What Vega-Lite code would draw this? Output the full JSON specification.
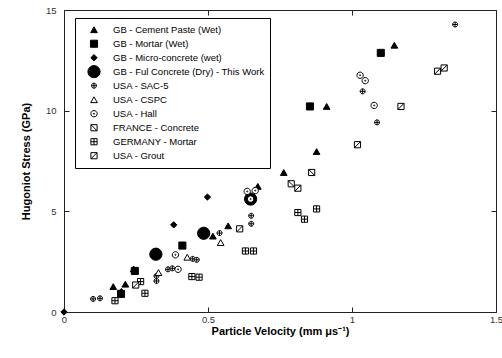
{
  "$schema": "https://vega.github.io/schema/vega-lite/v6.json",
  "autosize": "none",
  "width": 432,
  "height": 302,
  "padding": {"left": 64, "top": 10, "right": 6, "bottom": 46},
  "background": "white",
  "config": {
    "font": "Liberation Sans",
    "view": {"stroke": null},
    "axis": {
      "grid": false,
      "domainColor": "#222222",
      "domainWidth": 1,
      "tickColor": "#222222",
      "tickSize": -5,
      "labelFont": "Liberation Sans",
      "labelFontSize": 9.5,
      "labelColor": "#333333",
      "titleFont": "Liberation Sans",
      "titleFontSize": 11,
      "titleFontWeight": "bold",
      "titleColor": "black"
    }
  },
  "datasets": {
    "hugoniot": [
      {"s": "GB - Cement Paste (Wet)", "u": 0.171, "p": 1.26},
      {"s": "GB - Cement Paste (Wet)", "u": 0.213, "p": 1.38},
      {"s": "GB - Cement Paste (Wet)", "u": 0.242, "p": 2.14},
      {"s": "GB - Cement Paste (Wet)", "u": 0.517, "p": 3.77},
      {"s": "GB - Cement Paste (Wet)", "u": 0.570, "p": 4.28},
      {"s": "GB - Cement Paste (Wet)", "u": 0.673, "p": 6.24},
      {"s": "GB - Cement Paste (Wet)", "u": 0.763, "p": 6.93},
      {"s": "GB - Cement Paste (Wet)", "u": 0.877, "p": 7.97},
      {"s": "GB - Cement Paste (Wet)", "u": 0.912, "p": 10.21},
      {"s": "GB - Cement Paste (Wet)", "u": 1.147, "p": 13.25},
      {"s": "GB - Mortar (Wet)", "u": 0.198, "p": 0.9},
      {"s": "GB - Mortar (Wet)", "u": 0.246, "p": 2.04},
      {"s": "GB - Mortar (Wet)", "u": 0.411, "p": 3.30},
      {"s": "GB - Mortar (Wet)", "u": 0.854, "p": 10.21},
      {"s": "GB - Mortar (Wet)", "u": 1.100, "p": 12.87},
      {"s": "GB - Micro-concrete (wet)", "u": 0.0, "p": 0.0},
      {"s": "GB - Micro-concrete (wet)", "u": 0.199, "p": 1.01},
      {"s": "GB - Micro-concrete (wet)", "u": 0.381, "p": 4.33},
      {"s": "GB - Micro-concrete (wet)", "u": 0.498, "p": 5.71},
      {"s": "GB - Ful Concrete (Dry) - This Work", "u": 0.319, "p": 2.87},
      {"s": "GB - Ful Concrete (Dry) - This Work", "u": 0.485, "p": 3.91},
      {"s": "GB - Ful Concrete (Dry) - This Work", "u": 0.648, "p": 5.61},
      {"s": "USA - SAC-5", "u": 0.101, "p": 0.65},
      {"s": "USA - SAC-5", "u": 0.125, "p": 0.68},
      {"s": "USA - SAC-5", "u": 0.321, "p": 1.79},
      {"s": "USA - SAC-5", "u": 0.321, "p": 1.54},
      {"s": "USA - SAC-5", "u": 0.361, "p": 2.12},
      {"s": "USA - SAC-5", "u": 0.376, "p": 2.17},
      {"s": "USA - SAC-5", "u": 0.447, "p": 2.64},
      {"s": "USA - SAC-5", "u": 0.461, "p": 2.59},
      {"s": "USA - SAC-5", "u": 0.540, "p": 3.92},
      {"s": "USA - SAC-5", "u": 0.650, "p": 4.78},
      {"s": "USA - SAC-5", "u": 0.650, "p": 4.38},
      {"s": "USA - SAC-5", "u": 1.037, "p": 10.96},
      {"s": "USA - SAC-5", "u": 1.087, "p": 9.42},
      {"s": "USA - SAC-5", "u": 1.358, "p": 14.28},
      {"s": "USA - CSPC", "u": 0.328, "p": 1.96},
      {"s": "USA - CSPC", "u": 0.428, "p": 2.72},
      {"s": "USA - CSPC", "u": 0.544, "p": 3.45},
      {"s": "USA - Hall", "u": 0.387, "p": 2.84},
      {"s": "USA - Hall", "u": 0.396, "p": 2.12},
      {"s": "USA - Hall", "u": 0.636, "p": 5.99},
      {"s": "USA - Hall", "u": 0.664, "p": 6.03},
      {"s": "USA - Hall", "u": 0.648, "p": 5.61},
      {"s": "USA - Hall", "u": 1.028, "p": 11.76},
      {"s": "USA - Hall", "u": 1.046, "p": 11.49},
      {"s": "USA - Hall", "u": 1.077, "p": 10.26},
      {"s": "FRANCE - Concrete", "u": 0.789, "p": 6.37},
      {"s": "FRANCE - Concrete", "u": 0.860, "p": 6.93},
      {"s": "GERMANY - Mortar", "u": 0.177, "p": 0.56},
      {"s": "GERMANY - Mortar", "u": 0.266, "p": 1.51},
      {"s": "GERMANY - Mortar", "u": 0.281, "p": 0.93},
      {"s": "GERMANY - Mortar", "u": 0.444, "p": 1.76},
      {"s": "GERMANY - Mortar", "u": 0.469, "p": 1.73},
      {"s": "GERMANY - Mortar", "u": 0.630, "p": 3.03},
      {"s": "GERMANY - Mortar", "u": 0.658, "p": 3.03},
      {"s": "GERMANY - Mortar", "u": 0.812, "p": 4.94},
      {"s": "GERMANY - Mortar", "u": 0.835, "p": 4.61},
      {"s": "GERMANY - Mortar", "u": 0.877, "p": 5.12},
      {"s": "USA - Grout", "u": 0.249, "p": 1.34},
      {"s": "USA - Grout", "u": 0.610, "p": 4.13},
      {"s": "USA - Grout", "u": 0.812, "p": 6.15},
      {"s": "USA - Grout", "u": 1.019, "p": 8.31},
      {"s": "USA - Grout", "u": 1.170, "p": 10.21},
      {"s": "USA - Grout", "u": 1.297, "p": 11.96},
      {"s": "USA - Grout", "u": 1.320, "p": 12.12}
    ]
  },
  "data": {"name": "hugoniot"},
  "layer": [
    {
      "mark": {"type": "point", "filled": true, "opacity": 1, "stroke": "black", "strokeWidth": 1, "clip": false},
      "encoding": {
        "x": {
          "field": "u", "type": "quantitative",
          "scale": {"domain": [0, 1.5], "nice": false, "zero": false},
          "axis": {"values": [0, 0.5, 1, 1.5], "format": "~g", "labelPadding": 7, "title": "Particle Velocity  (mm μs⁻¹)", "titlePadding": 2, "labelFlush": false}
        },
        "y": {
          "field": "p", "type": "quantitative",
          "scale": {"domain": [0, 15], "nice": false, "zero": false},
          "axis": {"values": [0, 5, 10, 15], "format": "~g", "labelPadding": 13, "title": "Hugoniot Stress (GPa)", "titlePadding": 14, "labelFlush": false}
        },
        "shape": {
          "field": "s", "type": "nominal",
          "scale": {
            "domain": ["GB - Cement Paste (Wet)", "GB - Mortar (Wet)", "GB - Micro-concrete (wet)", "GB - Ful Concrete (Dry) - This Work", "USA - SAC-5", "USA - CSPC", "USA - Hall", "FRANCE - Concrete", "GERMANY - Mortar", "USA - Grout"],
            "range": [
              "triangle-up",
              "square",
              "diamond",
              "circle",
              "M-1,0A1,1 0 1,0 1,0A1,1 0 1,0 -1,0ZM-1,0H1M0,-1V1",
              "triangle-up",
              "M-1,0A1,1 0 1,0 1,0A1,1 0 1,0 -1,0ZM-0.18,0A0.18,0.18 0 1,0 0.18,0A0.18,0.18 0 1,0 -0.18,0Z",
              "M-1,-1H1V1H-1ZM-1,-1L1,1",
              "M-1,-1H1V1H-1ZM0,-1V1M-1,0H1",
              "M-1,-1H1V1H-1ZM-1,1L1,-1"
            ]
          },
          "legend": {
            "title": null,
            "orient": "none",
            "legendX": 11,
            "legendY": 8,
            "direction": "vertical",
            "fillColor": "white",
            "strokeColor": "black",
            "padding": 5,
            "clipHeight": 13.45,
            "rowPadding": 0,
            "symbolOffset": 7,
            "labelOffset": 12,
            "labelFont": "Liberation Sans",
            "labelFontSize": 9.5,
            "labelColor": "black",
            "symbolStrokeColor": "black",
            "symbolStrokeWidth": 1,
            "symbolOpacity": 1
          }
        },
        "size": {
          "field": "s", "type": "nominal",
          "scale": {
            "type": "ordinal",
            "domain": ["GB - Cement Paste (Wet)", "GB - Mortar (Wet)", "GB - Micro-concrete (wet)", "GB - Ful Concrete (Dry) - This Work", "USA - SAC-5", "USA - CSPC", "USA - Hall", "FRANCE - Concrete", "GERMANY - Mortar", "USA - Grout"],
            "range": [45, 50, 40, 150, 25, 45, 40, 38, 38, 38]
          }
        },
        "fill": {
          "field": "s", "type": "nominal",
          "scale": {
            "domain": ["GB - Cement Paste (Wet)", "GB - Mortar (Wet)", "GB - Micro-concrete (wet)", "GB - Ful Concrete (Dry) - This Work", "USA - SAC-5", "USA - CSPC", "USA - Hall", "FRANCE - Concrete", "GERMANY - Mortar", "USA - Grout"],
            "range": ["black", "black", "black", "black", "white", "white", "white", "white", "white", "white"]
          }
        }
      }
    },
    {
      "mark": {"type": "point", "opacity": 0},
      "encoding": {
        "x": {"field": "u", "type": "quantitative", "axis": {"orient": "top", "values": [0, 0.5, 1, 1.5], "labels": false, "title": null}},
        "y": {"field": "p", "type": "quantitative", "axis": {"orient": "right", "values": [0, 5, 10, 15], "labels": false, "title": null}}
      }
    }
  ],
  "resolve": {"axis": {"x": "independent", "y": "independent"}}
}
